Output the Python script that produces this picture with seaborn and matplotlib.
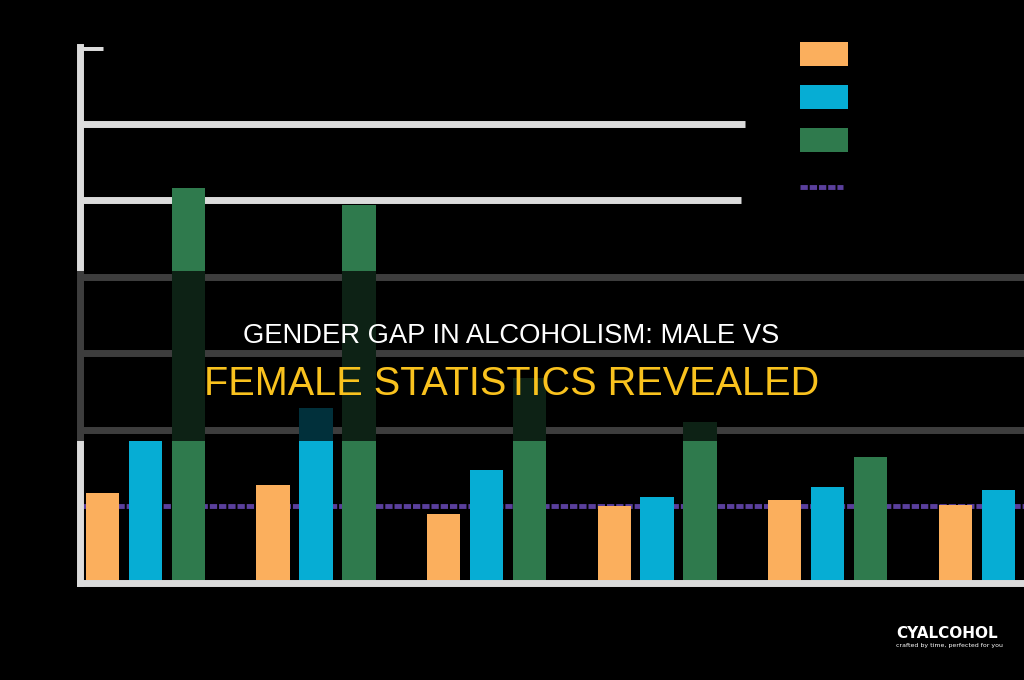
import matplotlib
matplotlib.use("Agg")
import matplotlib.pyplot as plt
import numpy as np
import pandas as pd
import seaborn as sns
from matplotlib import font_manager
from matplotlib.patches import Rectangle, Patch
from matplotlib.lines import Line2D

# ---------------- data ----------------
age_groups = ["18-25", "26-34", "35-44", "45-54", "55-64", "65+"]
series_names = ["Female", "Male", "Male heavy drinking"]
female_rate = [5.9, 6.4, 4.5, 5.0, 5.4, 5.1]
male_rate = [9.3, 11.4, 7.4, 5.6, 6.3, 6.1]
heavy_rate = [25.8, 24.7, 13.4, 10.5, 8.2, 7.5]
average_rate = 5.0
average_label = "Average"
grid_values = [10, 15, 20, 25, 30, 35]
title_line1 = "GENDER GAP IN ALCOHOLISM: MALE VS"
title_line2 = "FEMALE STATISTICS REVEALED"

colors = ["#FBAF5D", "#06ADD4", "#2F7A4D"]
avg_color = "#5A3F9C"
grid_color = "#DCDCDC"

df = pd.DataFrame({
    "group": age_groups * 3,
    "series": [series_names[0]] * 6 + [series_names[1]] * 6 + [series_names[2]] * 6,
    "value": female_rate + male_rate + heavy_rate,
})

sns.set_theme(style="white")
plt.rcParams["font.family"] = ["DejaVu Sans"]

# pick a title font: narrow if available, else Liberation Sans (Arial metrics)
title_family = "Liberation Sans"
for cand in ["Liberation Sans Narrow", "Arial Narrow"]:
    try:
        font_manager.findfont(font_manager.FontProperties(family=cand),
                              fallback_to_default=False)
        title_family = cand
        break
    except Exception:
        pass

W, H = 1024, 680
fig = plt.figure(figsize=(W / 100, H / 100), dpi=100, facecolor="black")
ax = fig.add_axes([80 / W, 97 / H, 944 / W, 536 / H])
ax.set_facecolor("black")

sns.barplot(data=df, x="group", y="value", hue="series", palette=colors,
            saturation=1, width=0.756, gap=0.23, dodge=True, legend=False,
            edgecolor="none", linewidth=0, ax=ax, zorder=2)

ax.set_xlim(-0.384, 5.152)
ax.set_ylim(0, 35)

# grid lines (varying visible lengths as in the reference)
grid_extent = {10: 1.0, 15: 1.0, 20: 1.0, 25: 0.700, 30: 0.704, 35: 0.024}
for g in grid_values:
    ax.axhline(g, xmin=0, xmax=grid_extent[g], color=grid_color, lw=5,
               solid_capstyle="butt", zorder=0.5)

ax.axhline(average_rate, color=avg_color, lw=3.5, ls=(0, (1.5, 0.4)), zorder=1)

for s in ["top", "right"]:
    ax.spines[s].set_visible(False)
for s in ["left", "bottom"]:
    ax.spines[s].set_color(grid_color)
    ax.spines[s].set_linewidth(5)
ax.spines["left"].set_zorder(3)

ax.tick_params(colors="black", length=0, labelcolor="black")
ax.set_xlabel("")
ax.set_ylabel("")

# legend (labels in black, as in the reference)
handles = [Patch(facecolor=c, edgecolor="none") for c in colors]
leg1 = ax.legend(handles, series_names, loc="upper left",
                 bbox_to_anchor=(800 / W, 1 - 42 / H),
                 bbox_transform=fig.transFigure, frameon=False, fontsize=12,
                 labelcolor="black", handlelength=2.9, handleheight=1.8,
                 labelspacing=1.17, borderpad=0, borderaxespad=0, handletextpad=0.5)
ax.add_artist(leg1)
ax.legend([Line2D([0], [0], color=avg_color, lw=3.5, ls=(0, (1.5, 0.4)))],
          [average_label], loc="center left", bbox_to_anchor=(800 / W, 1 - 188 / H),
          bbox_transform=fig.transFigure, frameon=False, fontsize=12,
          labelcolor="black", handlelength=2.6, borderpad=0, borderaxespad=0,
          handletextpad=0.5)

# dark overlay band with title
fig.add_artist(Rectangle((0, 1 - 441 / H), 1, 170 / H, transform=fig.transFigure,
                         facecolor="black", edgecolor="none", alpha=0.72, zorder=5))
fs1, fs2 = (19.7, 28.5)
fig.text(511.5 / W, 1 - 343 / H, title_line1, ha="center", va="baseline",
         color="white", fontsize=fs1, family=[title_family, "DejaVu Sans"], zorder=6)
fig.text(511.5 / W, 1 - 395 / H, title_line2, ha="center", va="baseline",
         color="#F9C21E", fontsize=fs2, family=[title_family, "DejaVu Sans"], zorder=6)

# watermark
fig.text(896 / W, 1 - 634 / H, "CYALCOHOL", ha="left", va="center", color="white",
         fontsize=11, fontweight="bold", family=["DejaVu Sans"], zorder=6)
fig.text(896 / W, 1 - 645 / H, "crafted by time, perfected for you", ha="left",
         va="center", color="white", fontsize=4.5, family=["DejaVu Sans"], zorder=6)

fig.savefig("out.png", dpi=100, facecolor="black")
